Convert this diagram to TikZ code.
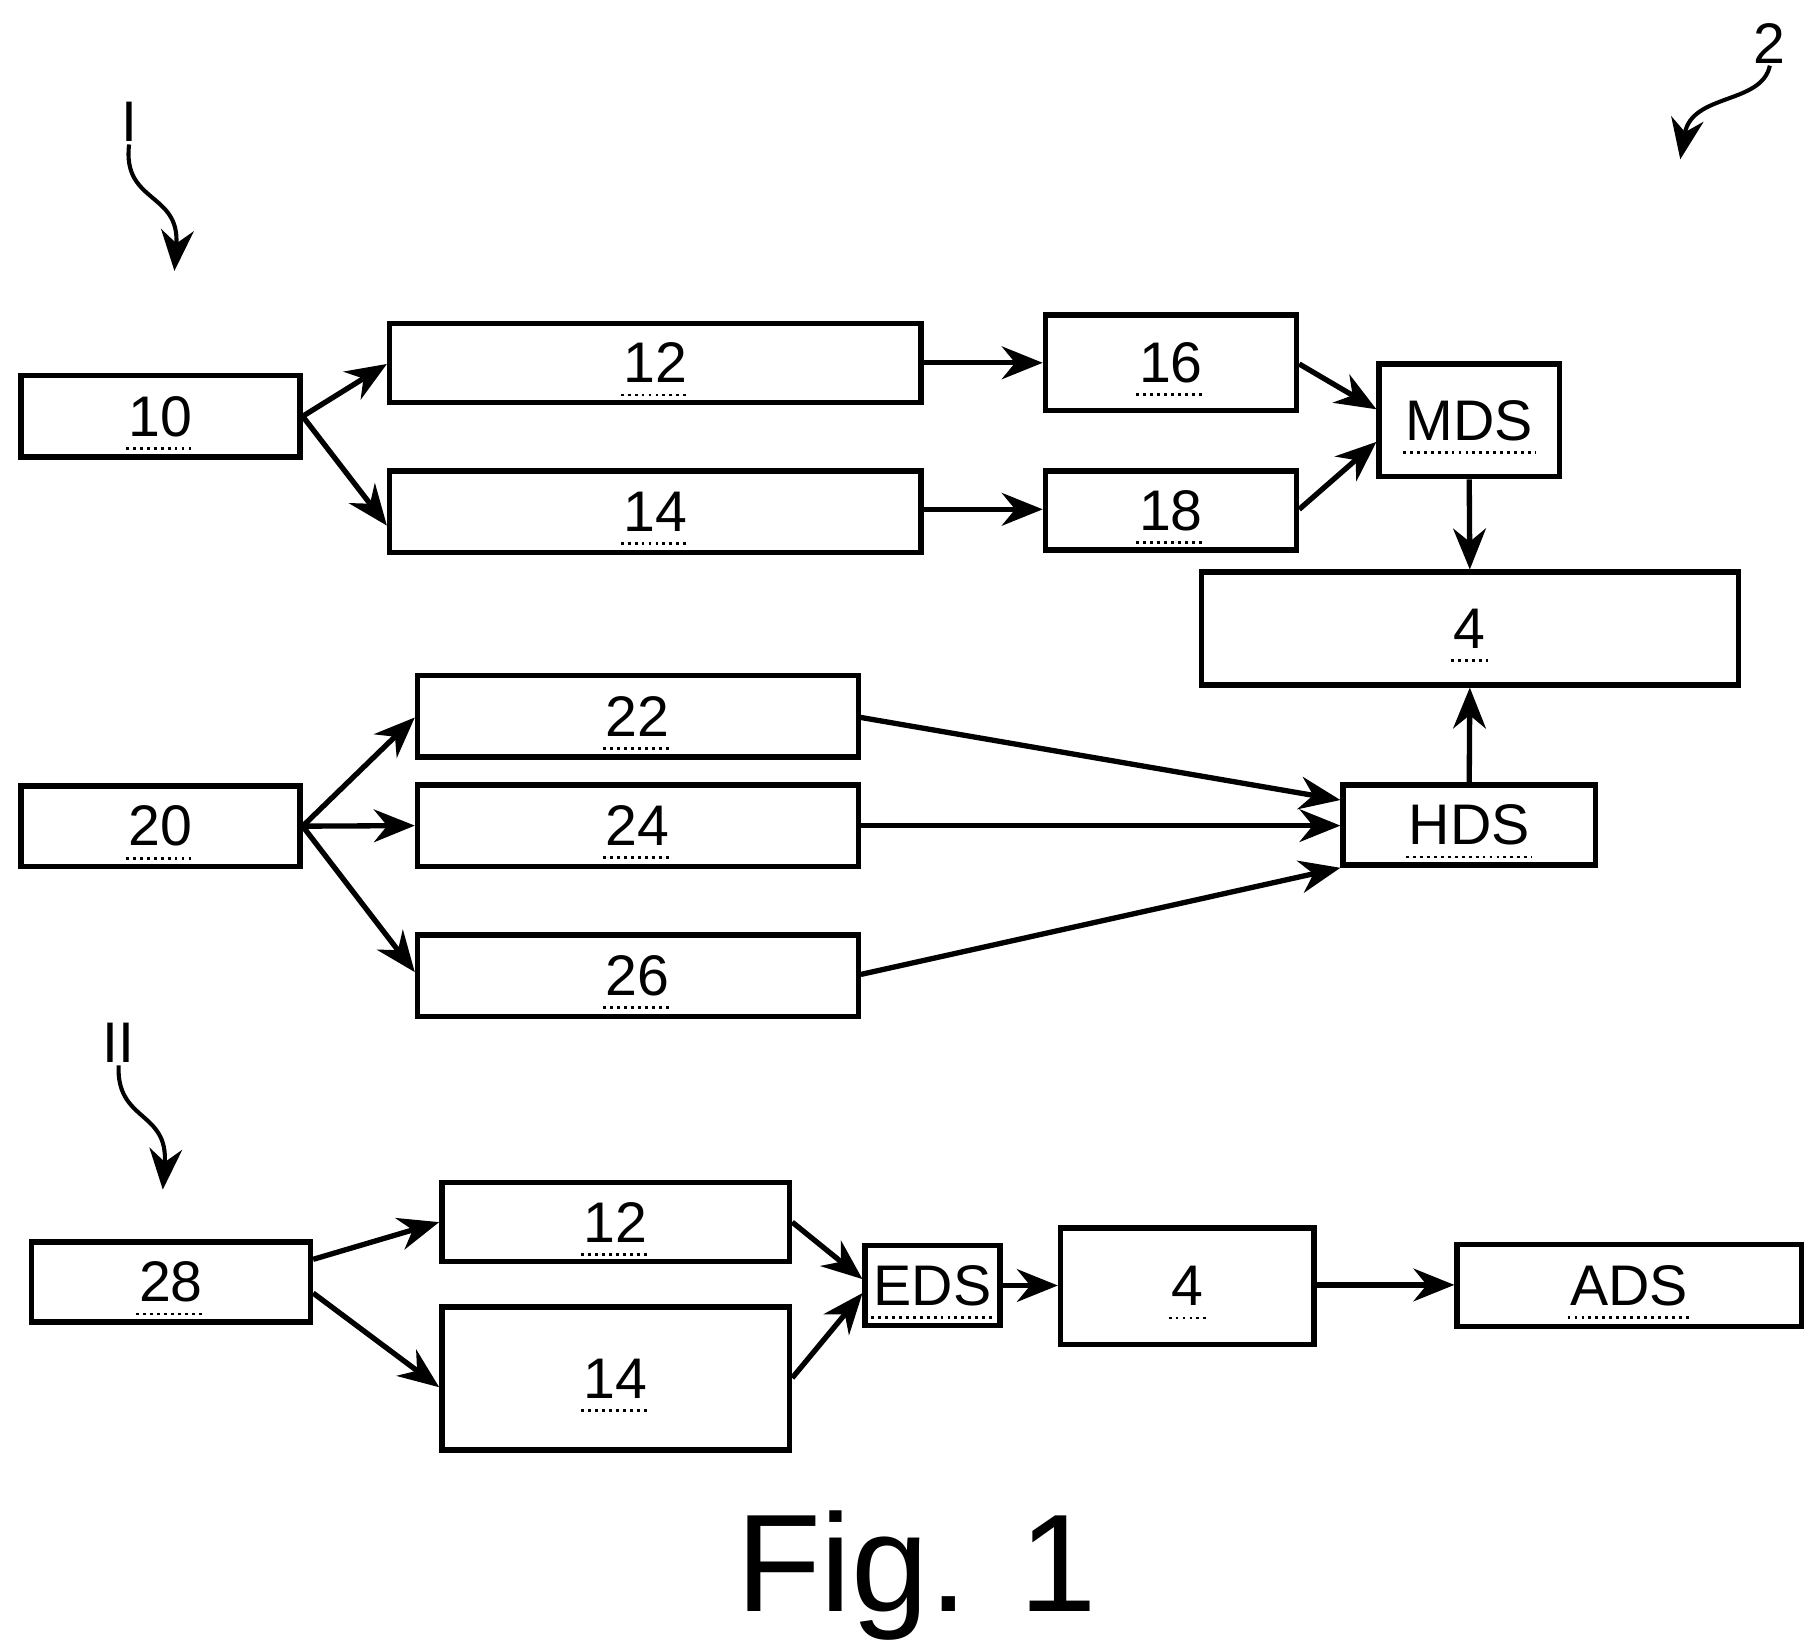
\documentclass[tikz,border=0pt]{standalone}
\usepackage{fontspec}
\setmainfont{Liberation Sans}
\usetikzlibrary{arrows.meta}
\begin{document}
\begin{tikzpicture}[x=0.01cm,y=-0.01cm,line width=1.3pt,
 box/.style={draw,inner sep=0pt},
 lab/.style={inner sep=0pt,font=\fontsize{14}{16}\selectfont},
 ul/.style={densely dotted,line width=0.7pt},
 arr/.style={-{Stealth[length=10pt,width=8pt]}}]
\useasboundingbox (0,0) rectangle (1560,1412);
\newcommand\bx[6]{\node[box,minimum width={0.01cm*(#4-#2)},minimum height={0.01cm*(#5-#3)}] (#1) at ({(#2+#4)/2},{(#3+#5)/2}) {};
\node[lab] (t#1) at (#1.center) {#6};
\draw[ul] ([yshift=-3pt]t#1.base west) -- ([yshift=-3pt]t#1.base east);}
\bx{a10}{18}{323}{258}{393}{10}
\bx{a12}{335}{278}{792}{346}{12}
\bx{a14}{335}{405}{792}{475}{14}
\bx{a16}{899}{271}{1115}{353}{16}
\bx{a18}{899}{405}{1115}{473}{18}
\bx{mds}{1186}{313}{1341}{410}{MDS}
\bx{f4}{1033}{492}{1495}{589}{4}
\bx{a22}{359}{581}{738}{651}{22}
\bx{a24}{359}{675}{738}{745}{24}
\bx{a26}{359}{804}{738}{874}{26}
\bx{a20}{18}{676}{258}{745}{20}
\bx{hds}{1155}{675}{1372}{744}{HDS}
\bx{a28}{27}{1068}{267}{1137}{28}
\bx{b12}{380}{1017}{679}{1085}{12}
\bx{b14}{380}{1124}{679}{1247}{14}
\bx{eds}{744}{1071}{860}{1140}{EDS}
\bx{b4}{912}{1056}{1130}{1156}{4}
\bx{ads}{1253}{1070}{1549}{1141}{ADS}
\draw[arr] (a10.east) -- (a12.west |- 0,313);
\draw[arr] (a10.east) -- (a14.west |- 0,452);
\draw[arr] (a12.east) -- (a16.west |- a12.east);
\draw[arr] (a14.east |- 0,438) -- (a18.west |- 0,438);
\draw[arr] (a16.east |- 0,313) -- (mds.west |- 0,352);
\draw[arr] (a18.east |- 0,438) -- (mds.west |- 0,380);
\draw[arr] (mds.south) -- (f4.north);
\draw[arr] (hds.north) -- (f4.south);
\draw[arr] (a20.east) -- (a22.west |- 0,617);
\draw[arr] (a20.east) -- (a24.west);
\draw[arr] (a20.east) -- (a26.west |- 0,836);
\draw[arr] (a22.east |- 0,617) -- (hds.west |- 0,688);
\draw[arr] (a24.east |- 0,710) -- (hds.west |- 0,710);
\draw[arr] (a26.east |- 0,838) -- (hds.south west);
\draw[arr] (a28.east |- 0,1083) -- (b12.west |- 0,1051);
\draw[arr] (a28.east |- 0,1112) -- (b14.west |- 0,1193);
\draw[arr] (b12.east |- 0,1051) -- (eds.west |- 0,1100);
\draw[arr] (b14.east |- 0,1185) -- (eds.west |- 0,1112);
\draw[arr] (eds.east) -- (b4.west |- eds.east);
\draw[arr] (b4.east |- 0,1105) -- (ads.west |- 0,1105);
\node[lab] (l1) at (111,105) {I};
\coordinate (l1e) at (150,233);
\draw[arr,line width=1pt] (l1.south) .. controls (105,175) and (155,165) .. (l1e);
\node[lab] (l2) at (102,897) {II};
\coordinate (l2e) at (140,1023);
\draw[arr,line width=1pt] (l2.south) .. controls (100,965) and (145,955) .. (l2e);
\node[lab] (n2) at (1522,37) {2};
\coordinate (n2e) at (1445,137);
\draw[arr,line width=1pt] (n2.south) .. controls (1515,90) and (1455,80) .. (n2e);
\node[font=\fontsize{34}{40}\selectfont] (fig) at (788,1355) {Fig. 1};
\end{tikzpicture}
\end{document}
